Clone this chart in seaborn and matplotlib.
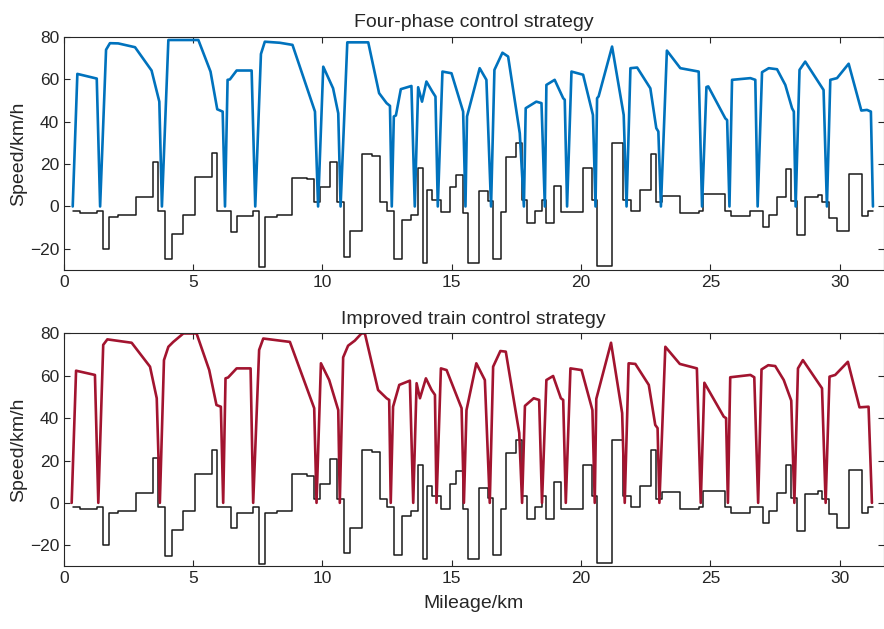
import numpy as np
import pandas as pd
import seaborn as sns
import matplotlib
matplotlib.use('Agg')
import matplotlib.pyplot as plt

#%% data (km, km/h)
speed_top_km = [0.34, 0.52, 1.27, 1.40, 1.63, 1.78, 2.10, 2.75, 3.39, 3.69, 3.79,
                4.04, 5.20, 5.67, 5.93, 6.14, 6.23, 6.33, 6.42, 6.68, 7.26, 7.40,
                7.62, 7.77, 8.35, 8.84, 9.71, 9.83, 10.03, 10.41, 10.61, 10.70,
                10.96, 11.77, 12.19, 12.48, 12.61, 12.68, 12.76, 12.84, 13.03, 13.44, 13.57,
                13.70, 13.85, 14.02, 14.25, 14.37, 14.46, 14.64, 14.99, 15.44, 15.53,
                15.59, 16.08, 16.34, 16.52, 16.65, 16.96, 17.18, 17.63, 17.79,
                17.86, 18.27, 18.47, 18.60, 18.66, 18.98, 19.31, 19.37, 19.46,
                19.63, 20.08, 20.46, 20.56, 20.62, 20.68, 21.20, 21.65, 21.76,
                21.91, 22.17, 22.68, 22.91, 22.99, 23.09, 23.32, 23.84, 24.55, 24.68,
                24.85, 24.92, 25.58, 25.65, 25.74, 25.84, 26.55, 26.74, 26.83,
                27.00, 27.26, 27.58, 27.90, 28.16, 28.23, 28.30, 28.45, 28.67, 29.38, 29.51,
                29.64, 29.90, 30.35, 30.84, 31.06, 31.21, 31.29]
speed_top = [0, 62.6, 60.4, 0, 74, 77.1, 77, 75.2, 64.2, 49.5, 0,
             78.6, 78.6, 63.7, 45.9, 44.8, 0, 59.8, 60, 64.2, 64.2, 0,
             72, 77.8, 77.3, 76.3, 44.8, 0, 66, 55.8, 44, 0,
             77.5, 77.5, 53.5, 48.8, 47.5, 0, 42.5, 43, 55.4, 56.9, 0,
             56.3, 49.5, 59, 54.2, 51.9, 0, 63.7, 62.9, 44.8, 0,
             42.5, 65.3, 59.8, 0, 64.5, 72.6, 70.8, 34.6, 0,
             46.4, 49.5, 48.8, 0, 57.4, 59.8, 51.1, 50.4, 0,
             63.7, 62.2, 43.2, 0, 51.1, 52, 75.5, 43.2, 0,
             65.3, 65.6, 55.8, 37, 35.4, 0, 73.6, 65.3, 63.7, 0,
             56.4, 56.7, 41.6, 40.8, 0, 59.8, 60.6, 59.8, 0,
             63.4, 65.3, 64.8, 57.4, 46.4, 44.8, 0, 64.5, 68.4, 55, 0,
             59.8, 60.6, 67.4, 45.3, 45.6, 44.8, 0]

speed_bot_km = [0.30, 0.47, 1.20, 1.33, 1.52, 1.68, 2.62, 3.33, 3.59, 3.71,
                3.87, 4.04, 4.23, 4.62, 5.13, 5.62, 5.90, 6.07, 6.16,
                6.25, 6.35, 6.68, 7.22, 7.32, 7.55, 7.71, 8.74, 9.68, 9.77,
                9.94, 10.26, 10.61, 10.67, 10.80, 10.99, 11.25, 11.51, 11.64,
                12.15, 12.48, 12.58, 12.64, 12.73, 12.97, 13.38, 13.51,
                13.64, 13.77, 14.00, 14.22, 14.35, 14.41, 14.58, 14.80, 15.38, 15.47,
                15.57, 15.95, 16.28, 16.47, 16.60, 16.88, 17.09, 17.61, 17.72,
                17.83, 18.17, 18.38, 18.49, 18.66, 18.92, 19.22, 19.31, 19.41,
                19.59, 20.02, 20.44, 20.53, 20.59, 21.16, 21.59, 21.69,
                21.84, 22.10, 22.62, 22.87, 22.96, 23.03, 23.26, 23.82, 24.48, 24.63,
                24.77, 25.52, 25.61, 25.68, 25.77, 26.55, 26.70, 26.85,
                26.98, 27.24, 27.51, 27.84, 28.13, 28.25, 28.39, 28.58, 29.32, 29.46,
                29.61, 29.83, 30.32, 30.77, 31.12, 31.25]
speed_bot = [0, 62.4, 60.4, 0, 74.6, 77.2, 75.6, 64.3, 49.4, 0,
             67.4, 73.7, 76.0, 80, 80, 62.7, 46.2, 45.4, 0,
             58.8, 59.2, 63.5, 63.5, 0, 72.2, 77.6, 76.0, 44.7, 0,
             65.9, 58, 43.8, 0, 68.7, 74.2, 76.6, 80, 80,
             53.3, 49.4, 48.6, 0, 45.4, 55.7, 57.7, 0,
             56.5, 49.4, 58.8, 53.3, 51, 0, 63.5, 62.7, 44.7, 0,
             43.8, 65.9, 58, 0, 64.3, 71.7, 71.4, 33, 0,
             45.8, 49.4, 48.6, 0, 58, 59.9, 49.4, 48.6, 0,
             63.5, 62.7, 43.8, 0, 49.1, 75.6, 42.4, 0,
             65.9, 65.6, 55.7, 36.8, 35.3, 0, 73.7, 65.6, 63.5, 0,
             56.7, 40.7, 40, 0, 59.3, 60.4, 59.3, 0,
             63.0, 65.0, 64.6, 58, 48.3, 0, 63.5, 67.4, 54.1, 0,
             59.6, 60.4, 66.6, 45.1, 45.4, 0]

# line gradient (permille), start of each section
grad_km = [0.36, 0.62, 1.27, 1.52, 1.74, 2.10, 2.79, 3.43, 3.65, 3.91, 4.17, 4.59,
           5.07, 5.71, 5.94, 6.45, 6.70, 7.30, 7.54, 7.77, 8.26, 8.83, 9.41, 9.68,
           9.90, 10.29, 10.57, 10.84, 11.06, 11.54, 11.92, 12.22, 12.48, 12.76, 13.06,
           13.44, 13.70, 13.87, 14.03, 14.22, 14.58, 14.95, 15.18, 15.44, 15.64, 16.05,
           16.40, 16.60, 16.92, 17.11, 17.47, 17.72, 17.91, 18.23, 18.50, 18.63, 18.96,
           19.24, 20.08, 20.44, 20.62, 21.21, 21.62, 21.94, 22.29, 22.69, 22.91, 23.14,
           23.84, 24.56, 24.72, 25.55, 25.81, 26.55, 27.03, 27.27, 27.59, 27.91, 28.13,
           28.36, 28.68, 29.16, 29.33, 29.59, 29.90, 30.36, 30.88, 31.10, 31.29]
grad_val = [-2, -3, -2, -20, -5, -4, 4.7, 21, -2, -25, -13, -4,
            13.7, 25.2, -2, -12, -4.7, -2, -28.8, -5, -4, 13.4, 12.9, 1.9,
            9.0, 20.9, 1.9, -23.9, -11.8, 24.9, 23.9, 1.9, -2, -24.8, -6.3,
            -4, 18, -26.5, 7.9, 3.1, -2.8, 9.0, 14.9, -3.1, -26.7, 7.1,
            2.4, -24.8, -2.7, 23.6, 29.9, 3.2, -7.8, -2, 3.2, -7.8, 9.8,
            -2.7, 18.1, 3.2, -28.3, 29.9, 3.2, -2, 7.9, 24.9, 1.9, 5.0,
            -3.1, -2, 5.7, -2, -4.7, -2, -9.7, -4, 4.7, 17.8, 2.4,
            -13.4, 4.4, 5.5, 2, -5.4, -11.8, 15.3, -4.7, -2, -2]

panels = [('Four-phase control strategy', speed_top_km, speed_top, '#0072BD'),
          ('Improved train control strategy', speed_bot_km, speed_bot, '#A2142F')]

#%% style
sns.set_style('ticks')
plt.rcParams['font.family'] = ['Liberation Sans', 'DejaVu Sans']
plt.rcParams['xtick.direction'] = 'in'
plt.rcParams['ytick.direction'] = 'in'
plt.rcParams['xtick.top'] = True
plt.rcParams['ytick.right'] = True
plt.rcParams['axes.edgecolor'] = '#262626'
plt.rcParams['axes.linewidth'] = 0.8

fig = plt.figure(figsize = (8.84, 6.29), dpi = 100)
ax_pos = [[0.0723, 0.5707, 0.9272, 0.3704],
          [0.0723, 0.0995, 0.9272, 0.3704]]

df_grad = pd.DataFrame({'km': grad_km, 'grad': grad_val})

for i, (title, km, v, col) in enumerate(panels):
    ax = fig.add_axes(ax_pos[i])
    sns.lineplot(data = df_grad, x = 'km', y = 'grad', ax = ax, color = '#1a1a1a',
                 linewidth = 1.1, estimator = None, sort = False, drawstyle = 'steps-post')
    df_v = pd.DataFrame({'km': km, 'speed': v})
    sns.lineplot(data = df_v, x = 'km', y = 'speed', ax = ax, color = col,
                 linewidth = 1.9, estimator = None, sort = False)
    ax.set_xlim(0, 31.7)
    ax.set_ylim(-30, 80)
    ax.set_xticks([0, 5, 10, 15, 20, 25, 30])
    ax.set_yticks([-20, 0, 20, 40, 60, 80])
    ax.tick_params(labelsize = 12.5, length = 4, width = 0.8, colors = '#262626')
    ax.set_title(title, fontsize = 14, pad = 7)
    ax.set_ylabel('Speed/km/h', fontsize = 14, labelpad = 2)
    ax.set_xlabel('')

ax.set_xlabel('Mileage/km', fontsize = 14, labelpad = 6)

plt.savefig('out.png', dpi = 100)
